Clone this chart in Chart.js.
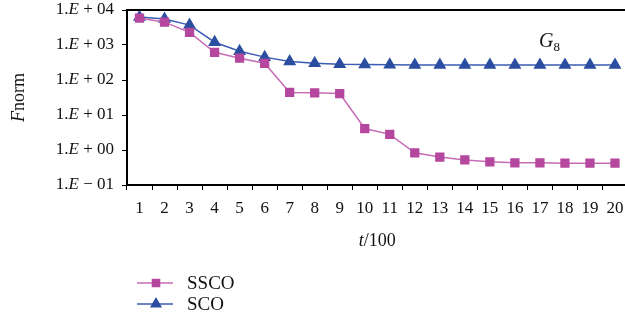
<!DOCTYPE html>
<html>
<head>
<meta charset="utf-8">
<script src="https://cdn.jsdelivr.net/npm/chart.js@4"></script>
<style>
  html, body { margin: 0; padding: 0; background: #fff; overflow: hidden; }
  /* plot box runs off the right edge in the reference, so the canvas is a bit wider than the window */
  #wrap { width: 635px; height: 324px; }
</style>
</head>
<body>
<div id="wrap"><canvas id="chart"></canvas></div>
<script>
// Data
const steps = ['1','2','3','4','5','6','7','8','9','10','11','12','13','14','15','16','17','18','19','20'];
const ssco = [5900, 4500, 2300, 620, 420, 300, 44, 43, 41, 4.1, 2.8, 0.83, 0.63, 0.52, 0.46, 0.43, 0.43, 0.42, 0.42, 0.42];
const sco  = [6300, 5500, 3700, 1200, 660, 450, 340, 300, 280, 275, 272, 270, 270, 270, 270, 270, 270, 270, 270, 270];
const yTicks = [0.1, 1, 10, 100, 1000, 10000];

const serif = '"Liberation Serif", "DejaVu Serif", serif';
const pink = '#b5479f';
const pinkLine = '#c66cb4';
const blue = '#2c4ea1';
const blueLine = '#3b5cb2';

// exponent label like "1.E + 04"
function expParts(v) {
    const e = Math.round(Math.log10(v));
    const sign = e < 0 ? ' \u2212 ' : ' + ';
    return ['1.', 'E', sign + String(Math.abs(e)).padStart(2, '0')];
}

// draws the text that Chart.js can't style (italic parts), plus legend and border
const decorations = {
    id: 'decorations',
    afterDraw(chart) {
        const ctx = chart.ctx;
        const area = chart.chartArea;
        const y = chart.scales.y;
        ctx.save();
        ctx.fillStyle = '#111';
        ctx.textBaseline = 'middle';

        // top border of the plot box
        ctx.strokeStyle = '#000';
        ctx.lineWidth = 2;
        ctx.beginPath();
        ctx.moveTo(area.left, area.top);
        ctx.lineTo(area.right, area.top);
        ctx.stroke();

        // y tick labels
        const normal = '17px ' + serif;
        const italic = 'italic 17px ' + serif;
        yTicks.forEach(v => {
            const py = y.getPixelForValue(v);
            const [a, b, c] = expParts(v);
            ctx.font = normal;
            const wa = ctx.measureText(a).width;
            const wc = ctx.measureText(c).width;
            ctx.font = italic;
            const wb = ctx.measureText(b).width;
            let x = 114 - (wa + wb + wc);
            ctx.textAlign = 'left';
            ctx.font = normal; ctx.fillText(a, x, py); x += wa;
            ctx.font = italic; ctx.fillText(b, x, py); x += wb;
            ctx.font = normal; ctx.fillText(c, x, py);
        });

        // y title "Fnorm"
        ctx.save();
        ctx.translate(19, (area.top + area.bottom) / 2);
        ctx.rotate(-Math.PI / 2);
        ctx.font = 'italic 18px ' + serif;
        const wF = ctx.measureText('F').width;
        ctx.font = '18px ' + serif;
        const wn = ctx.measureText('norm').width;
        let tx = -(wF + wn) / 2;
        ctx.textAlign = 'left';
        ctx.font = 'italic 18px ' + serif; ctx.fillText('F', tx, 0);
        ctx.font = '18px ' + serif; ctx.fillText('norm', tx + wF, 0);
        ctx.restore();

        // x title "t/100"
        ctx.font = 'italic 18px ' + serif;
        const wt = ctx.measureText('t').width;
        ctx.font = '18px ' + serif;
        const w100 = ctx.measureText('/100').width;
        let cx = (area.left + area.right) / 2 - (wt + w100) / 2;
        ctx.textAlign = 'left';
        ctx.font = 'italic 18px ' + serif; ctx.fillText('t', cx, 241);
        ctx.font = '18px ' + serif; ctx.fillText('/100', cx + wt, 241);

        // G8 annotation
        ctx.textBaseline = 'alphabetic';
        ctx.font = 'italic 20px ' + serif;
        ctx.fillText('G', 539, 47);
        const wG = ctx.measureText('G').width;
        ctx.font = '13px ' + serif;
        ctx.fillText('8', 539 + wG, 51);

        // legend
        const items = [
            { label: 'SSCO', line: pinkLine, fill: pink, style: 'rect', y: 283 },
            { label: 'SCO', line: blueLine, fill: blue, style: 'triangle', y: 304 }
        ];
        items.forEach(it => {
            ctx.strokeStyle = it.line;
            ctx.lineWidth = 1.5;
            ctx.beginPath();
            ctx.moveTo(137, it.y);
            ctx.lineTo(173, it.y);
            ctx.stroke();
            ctx.fillStyle = it.fill;
            ctx.strokeStyle = it.fill;
            Chart.helpers.drawPoint(ctx, {
                pointStyle: it.style, radius: it.style === 'rect' ? 5 : 5.5,
                borderWidth: 1, rotation: 0
            }, 156, it.y);
            ctx.fillStyle = '#111';
            ctx.textBaseline = 'middle';
            ctx.font = '19px ' + serif;
            ctx.fillText(it.label, 187, it.y + 1);
        });
        ctx.restore();
    }
};

new Chart(document.getElementById('chart').getContext('2d'), {
    type: 'line',
    data: {
        labels: steps,
        datasets: [
            {
                label: 'SSCO',
                data: ssco,
                borderColor: pinkLine,
                backgroundColor: pink,
                pointBackgroundColor: pink,
                pointBorderColor: pink,
                borderWidth: 1.5,
                pointStyle: 'rect',
                pointRadius: 5.5,
                tension: 0
            },
            {
                label: 'SCO',
                data: sco,
                borderColor: blueLine,
                backgroundColor: blue,
                pointBackgroundColor: blue,
                pointBorderColor: blue,
                borderWidth: 1.5,
                pointStyle: 'triangle',
                pointRadius: 6,
                tension: 0
            }
        ]
    },
    options: {
        responsive: true,
        maintainAspectRatio: false,
        animation: false,
        layout: { padding: { top: 10, right: 0, bottom: 0, left: 0 } },
        plugins: {
            legend: { display: false },
            tooltip: { enabled: false }
        },
        scales: {
            x: {
                type: 'category',
                offset: true,
                afterFit: s => { s.height = 139; },
                grid: {
                    offset: true,
                    drawOnChartArea: false,
                    drawTicks: true,
                    tickLength: 5,
                    color: '#000',
                    lineWidth: 1
                },
                border: { color: '#000', width: 2 },
                ticks: {
                    color: '#111',
                    font: { family: serif, size: 17 },
                    padding: 8,
                    maxRotation: 0,
                    autoSkip: false
                }
            },
            y: {
                type: 'logarithmic',
                min: 0.1,
                max: 10000,
                afterFit: s => { s.width = 127; },
                afterBuildTicks: s => { s.ticks = yTicks.map(v => ({ value: v })); },
                grid: {
                    drawOnChartArea: false,
                    drawTicks: true,
                    tickLength: 5,
                    color: '#000',
                    lineWidth: 1
                },
                border: { color: '#000', width: 2 },
                ticks: { display: false }
            }
        }
    },
    plugins: [decorations]
});
</script>
</body>
</html>
